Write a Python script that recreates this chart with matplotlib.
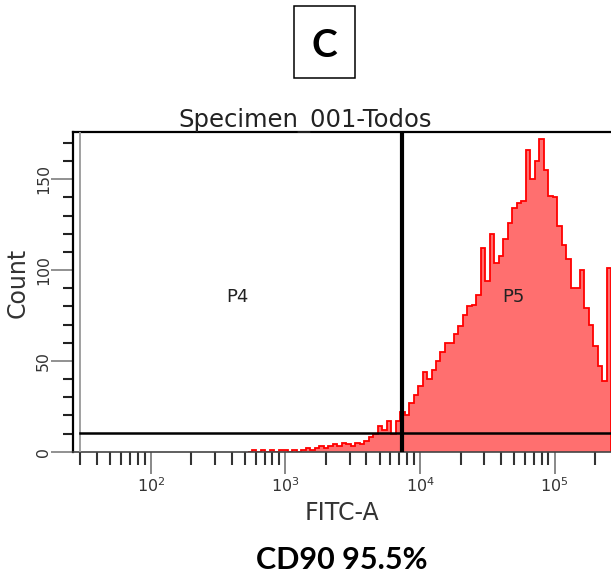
import numpy as np
import matplotlib
matplotlib.use("Agg")
import matplotlib.pyplot as plt
from matplotlib.ticker import LogLocator, MultipleLocator, NullFormatter, FixedLocator
from matplotlib.patches import Rectangle

# ---------------- data ----------------
panel_letter = "C"
plot_title = "Specimen_001-Todos"
x_label = "FITC-A"
y_label = "Count"
caption = "CD90 95.5%"
gate_labels = ["P4", "P5"]
x_tick_values = [1e2, 1e3, 1e4, 1e5]
x_tick_labels = [r"$10^{2}$", r"$10^{3}$", r"$10^{4}$", r"$10^{5}$"]

fitc_max = 262144          # upper end of FITC-A scale
fitc_min = 26.3            # lower end of displayed scale
decades_per_bin = 1 / 30   # histogram bin width (log10 units)

counts = [0, 1, 0, 1, 0, 1, 0, 1, 1, 0,
          1, 0, 1, 2, 1, 2, 3, 2, 3, 4,
          3, 5, 4, 3, 5, 4, 6, 8, 10, 14,
          12, 17, 10, 17, 22, 20, 27, 31, 36, 44,
          40, 45, 50, 55, 60, 60, 65, 69, 75, 80,
          81, 86, 112, 94, 120, 104, 108, 117, 126, 134,
          137, 138, 166, 150, 160, 172, 155, 141, 140, 124,
          114, 106, 90, 90, 100, 79, 70, 58, 47, 39, 101]

gate_x = 7310      # P4/P5 divider (FITC-A)
gate_y = 10.3      # horizontal gate level (count)
gate_left = 30     # left border of the gates
y_max = 176

# ---------------- figure ----------------
W, H = 611, 581
fig = plt.figure(figsize=(W / 100, H / 100), dpi=100)
fig.patch.set_facecolor("white")

ax_l, ax_r, ax_t, ax_b = 72.7, 611, 132, 451.7
ax = fig.add_axes([ax_l / W, 1 - ax_b / H, (ax_r - ax_l) / W, (ax_b - ax_t) / H])

n = len(counts)
hi = np.log10(fitc_max)
edges = 10 ** np.linspace(hi - n * decades_per_bin, hi, n + 1)

ax.stairs(counts, edges, fill=True, color="#ff6f6f", zorder=1, linewidth=0)
ax.stairs(counts, edges, color="#ff0000", linewidth=1.3, zorder=2)

ax.set_xscale("log")
ax.set_xlim(fitc_min, fitc_max)
ax.set_ylim(0, y_max)

# gates
ax.axvline(gate_left, color="#999999", lw=1.3, zorder=3)
ax.axvline(gate_x, color="black", lw=3.0, zorder=4)
ax.plot([gate_left, fitc_max], [gate_y, gate_y], color="black", lw=1.8, zorder=4)

ax.text(441, 85, gate_labels[0], fontsize=13, color="#222222", ha="center", va="center")
ax.text(49650, 85, gate_labels[1], fontsize=13, color="#222222", ha="center", va="center")

# spines
ax.spines["right"].set_visible(False)
ax.spines["left"].set_linewidth(1.6)
ax.spines["top"].set_linewidth(1.6)
ax.spines["bottom"].set_linewidth(1.2)
ax.spines["bottom"].set_color("#444444")

# ticks
ax.xaxis.set_major_locator(FixedLocator(x_tick_values))
ax.xaxis.set_minor_locator(LogLocator(base=10, subs=np.arange(2, 10), numticks=20))
ax.xaxis.set_minor_formatter(NullFormatter())
ax.set_xticklabels(x_tick_labels)
ax.yaxis.set_major_locator(MultipleLocator(50))
ax.yaxis.set_minor_locator(MultipleLocator(10))

ax.tick_params(axis="x", which="major", direction="out", length=15.5, width=1.4,
               color="#888888", pad=2, labelsize=11.5, labelcolor="#333333")
ax.tick_params(axis="x", which="minor", direction="out", length=9.5, width=1.5,
               color="#333333")
ax.tick_params(axis="y", which="major", direction="out", length=15.5, width=1.3,
               color="#888888", pad=0, labelsize=11.3, labelcolor="#333333",
               labelrotation=90)
ax.tick_params(axis="y", which="minor", direction="out", length=7.2, width=1.5,
               color="#222222")
for lab in ax.get_yticklabels():
    lab.set_va("center")

# texts
fig.text(305 / W, 1 - 127 / H, plot_title, fontsize=17.5, color="#222222",
         ha="center", va="baseline")
fig.text(18 / W, 1 - 283 / H, y_label, fontsize=17, color="#333333",
         ha="center", va="center", rotation=90)
fig.text(342 / W, 1 - 520 / H, x_label, fontsize=17, color="#333333",
         ha="center", va="baseline")
fig.text(342 / W, 1 - 569 / H, caption, fontsize=22, fontweight="bold",
         family=["Lato", "DejaVu Sans"], color="black", ha="center", va="baseline")

# panel letter box
fig.patches.append(Rectangle((294 / W, 1 - 78 / H), 61 / W, 72 / H,
                             transform=fig.transFigure, fill=False,
                             edgecolor="black", linewidth=1.1))
fig.text(324.5 / W, 1 - 57 / H, panel_letter, fontsize=28, fontweight="bold",
         family=["Lato", "DejaVu Sans"], color="black", ha="center", va="baseline")

fig.savefig("out.png", dpi=100)
